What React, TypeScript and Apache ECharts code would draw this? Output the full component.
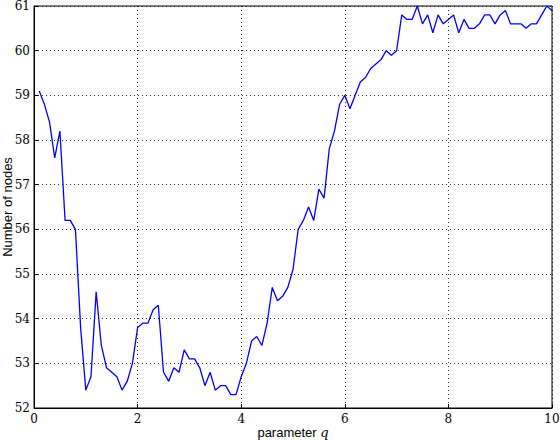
import React, { useEffect, useRef } from "react";
import * as echarts from "echarts";

const qValues = [
  0.1, 0.2, 0.3, 0.4, 0.5, 0.6, 0.7, 0.8, 0.9, 1.0,
  1.1, 1.2, 1.3, 1.4, 1.5, 1.6, 1.7, 1.8, 1.9, 2.0,
  2.1, 2.2, 2.3, 2.4, 2.5, 2.6, 2.7, 2.8, 2.9, 3.0,
  3.1, 3.2, 3.3, 3.4, 3.5, 3.6, 3.7, 3.8, 3.9, 4.0,
  4.1, 4.2, 4.3, 4.4, 4.5, 4.6, 4.7, 4.8, 4.9, 5.0,
  5.1, 5.2, 5.3, 5.4, 5.5, 5.6, 5.7, 5.8, 5.9, 6.0,
  6.1, 6.2, 6.3, 6.4, 6.5, 6.6, 6.7, 6.8, 6.9, 7.0,
  7.1, 7.2, 7.3, 7.4, 7.5, 7.6, 7.7, 7.8, 7.9, 8.0,
  8.1, 8.2, 8.3, 8.4, 8.5, 8.6, 8.7, 8.8, 8.9, 9.0,
  9.1, 9.2, 9.3, 9.4, 9.5, 9.6, 9.7, 9.8, 9.9, 10.0,
];

const nodeCounts = [
  59.1, 58.8, 58.4, 57.6, 58.2, 56.2, 56.2, 56.0, 53.8, 52.4,
  52.7, 54.6, 53.4, 52.9, 52.8, 52.7, 52.4, 52.6, 53.0, 53.8,
  53.9, 53.9, 54.2, 54.3, 52.8, 52.6, 52.9, 52.8, 53.3, 53.1,
  53.1, 52.9, 52.5, 52.8, 52.4, 52.5, 52.5, 52.3, 52.3, 52.7,
  53.0, 53.5, 53.6, 53.4, 53.9, 54.7, 54.4, 54.5, 54.7, 55.1,
  56.0, 56.2, 56.5, 56.2, 56.9, 56.7, 57.8, 58.2, 58.8, 59.0,
  58.7, 59.0, 59.3, 59.4, 59.6, 59.7, 59.8, 60.0, 59.9, 60.0,
  60.8, 60.7, 60.7, 61.0, 60.6, 60.8, 60.4, 60.8, 60.6, 60.7,
  60.8, 60.4, 60.7, 60.5, 60.5, 60.6, 60.8, 60.8, 60.6, 60.8,
  60.9, 60.6, 60.6, 60.6, 60.5, 60.6, 60.6, 60.8, 61.0, 60.9,
];

const xRange = { min: 0, max: 10, interval: 2 };
const yRange = { min: 52, max: 61, interval: 1 };

export default function App() {
  const ref = useRef<HTMLDivElement>(null);
  useEffect(() => {
    if (!ref.current) return;
    const chart = echarts.init(ref.current, null, { renderer: "svg" });
    const serif = "DejaVu Serif";
    const sans = "Liberation Sans";
    const splitStyle = { show: true, lineStyle: { color: "#000", type: [1, 3] as any, width: 0.8 } };
    chart.setOption({
      animation: false,
      backgroundColor: "#fff",
      grid: {
        left: 34,
        right: 8,
        top: 6,
        bottom: 32,
        containLabel: false,
        outerBoundsMode: "none",
        show: true,
        borderColor: "#000",
        borderWidth: 1,
        backgroundColor: "transparent",
      },
      xAxis: {
        type: "value",
        min: xRange.min,
        max: xRange.max,
        interval: xRange.interval,
        name: "{a|parameter }{b|q}",
        nameLocation: "middle",
        nameGap: 18,
        nameMoveOverlap: false,
        nameTextStyle: {
          verticalAlign: "top",
          rich: {
            a: { fontFamily: sans, fontSize: 13, color: "#000" },
            b: { fontFamily: serif, fontStyle: "italic", fontSize: 13, color: "#000" },
          },
        },
        axisLine: { show: true, onZero: false, lineStyle: { color: "#000", width: 1 } },
        axisTick: { show: true, inside: true, length: 4, lineStyle: { color: "#000" } },
        axisLabel: { fontFamily: serif, fontSize: 12, color: "#000", margin: 5 },
        splitLine: splitStyle,
      },
      yAxis: {
        type: "value",
        min: yRange.min,
        max: yRange.max,
        interval: yRange.interval,
        name: "Number of nodes",
        nameLocation: "middle",
        nameRotate: 90,
        nameGap: 20,
        nameMoveOverlap: false,
        nameTextStyle: { fontFamily: sans, fontSize: 13, color: "#000" },
        axisLine: { show: true, onZero: false, lineStyle: { color: "#000", width: 1 } },
        axisTick: { show: true, inside: true, length: 4, lineStyle: { color: "#000" } },
        axisLabel: { fontFamily: serif, fontSize: 12, color: "#000", margin: 4 },
        splitLine: splitStyle,
      },
      series: [
        {
          type: "line",
          data: qValues.map((q, i) => [q, nodeCounts[i]]),
          showSymbol: false,
          symbol: "none",
          lineStyle: { color: "#0000ff", width: 1.3 },
          clip: true,
        },
      ],
    });
    return () => chart.dispose();
  }, []);
  return <div ref={ref} style={{ width: 560, height: 440, position: "absolute", left: 0, top: 0 }} />;
}
